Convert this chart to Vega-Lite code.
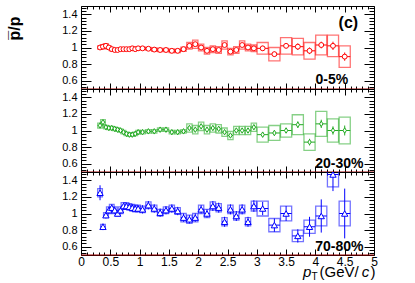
{
"$schema": "https://vega.github.io/schema/vega-lite/v6.json",
"background": "white",
"padding": {"left": 5, "top": 1, "right": 5, "bottom": 3},
"spacing": 0,
"bounds": "flush",
"config": {"view": {"stroke": "black", "strokeWidth": 1}, "font": "Liberation Sans", "axis": {"tickWidth": 1, "tickColor": "black", "labelColor": "black", "labelFont": "Liberation Sans", "labelFontSize": 11, "labelFlush": false, "labelOverlap": false, "labelBound": false, "domain": false, "grid": false}},
"datasets": {
"c05": [
{"pt":0.325,"x1":0.285,"x2":0.365,"v":1.0,"e":0.02,"s1":0.98,"s2":1.02},
{"pt":0.375,"x1":0.335,"x2":0.415,"v":1.01,"e":0.02,"s1":0.985,"s2":1.035},
{"pt":0.425,"x1":0.385,"x2":0.465,"v":1.02,"e":0.02,"s1":0.995,"s2":1.045},
{"pt":0.475,"x1":0.435,"x2":0.515,"v":1.0,"e":0.02,"s1":0.98,"s2":1.02},
{"pt":0.525,"x1":0.485,"x2":0.565,"v":0.98,"e":0.015,"s1":0.96,"s2":1.0},
{"pt":0.575,"x1":0.535,"x2":0.615,"v":0.97,"e":0.015,"s1":0.955,"s2":0.985},
{"pt":0.625,"x1":0.585,"x2":0.665,"v":0.97,"e":0.015,"s1":0.955,"s2":0.985},
{"pt":0.675,"x1":0.635,"x2":0.715,"v":0.98,"e":0.015,"s1":0.965,"s2":0.995},
{"pt":0.725,"x1":0.685,"x2":0.765,"v":0.98,"e":0.015,"s1":0.965,"s2":0.995},
{"pt":0.775,"x1":0.735,"x2":0.815,"v":0.98,"e":0.015,"s1":0.965,"s2":0.995},
{"pt":0.825,"x1":0.785,"x2":0.865,"v":0.98,"e":0.015,"s1":0.965,"s2":0.995},
{"pt":0.875,"x1":0.835,"x2":0.915,"v":0.99,"e":0.015,"s1":0.975,"s2":1.005},
{"pt":0.925,"x1":0.885,"x2":0.965,"v":0.98,"e":0.015,"s1":0.965,"s2":0.995},
{"pt":0.975,"x1":0.935,"x2":1.015,"v":0.99,"e":0.015,"s1":0.975,"s2":1.005},
{"pt":1.05,"x1":1.005,"x2":1.095,"v":0.99,"e":0.015,"s1":0.975,"s2":1.005},
{"pt":1.15,"x1":1.105,"x2":1.195,"v":0.985,"e":0.015,"s1":0.97,"s2":1.0},
{"pt":1.25,"x1":1.205,"x2":1.295,"v":0.975,"e":0.015,"s1":0.955,"s2":0.995},
{"pt":1.35,"x1":1.305,"x2":1.395,"v":0.97,"e":0.015,"s1":0.95,"s2":0.99},
{"pt":1.45,"x1":1.405,"x2":1.495,"v":0.97,"e":0.015,"s1":0.95,"s2":0.99},
{"pt":1.55,"x1":1.505,"x2":1.595,"v":0.96,"e":0.015,"s1":0.94,"s2":0.98},
{"pt":1.65,"x1":1.605,"x2":1.695,"v":0.96,"e":0.015,"s1":0.94,"s2":0.98},
{"pt":1.75,"x1":1.705,"x2":1.795,"v":0.98,"e":0.02,"s1":0.955,"s2":1.005},
{"pt":1.85,"x1":1.805,"x2":1.895,"v":1.02,"e":0.02,"s1":0.98,"s2":1.06},
{"pt":1.95,"x1":1.905,"x2":1.995,"v":1.04,"e":0.02,"s1":0.99,"s2":1.09},
{"pt":2.05,"x1":2.005,"x2":2.095,"v":1.0,"e":0.02,"s1":0.96,"s2":1.04},
{"pt":2.15,"x1":2.105,"x2":2.195,"v":0.96,"e":0.02,"s1":0.92,"s2":1.0},
{"pt":2.25,"x1":2.205,"x2":2.295,"v":0.98,"e":0.02,"s1":0.94,"s2":1.02},
{"pt":2.35,"x1":2.305,"x2":2.395,"v":0.97,"e":0.02,"s1":0.93,"s2":1.01},
{"pt":2.45,"x1":2.405,"x2":2.495,"v":1.03,"e":0.02,"s1":0.98,"s2":1.08},
{"pt":2.55,"x1":2.505,"x2":2.595,"v":0.95,"e":0.02,"s1":0.91,"s2":0.99},
{"pt":2.65,"x1":2.605,"x2":2.695,"v":0.97,"e":0.02,"s1":0.93,"s2":1.01},
{"pt":2.75,"x1":2.705,"x2":2.795,"v":1.03,"e":0.02,"s1":0.98,"s2":1.08},
{"pt":2.85,"x1":2.805,"x2":2.895,"v":1.0,"e":0.025,"s1":0.96,"s2":1.04},
{"pt":2.95,"x1":2.905,"x2":2.995,"v":0.99,"e":0.025,"s1":0.95,"s2":1.03},
{"pt":3.1,"x1":3.005,"x2":3.195,"v":0.99,"e":0.03,"s1":0.92,"s2":1.06},
{"pt":3.3,"x1":3.205,"x2":3.395,"v":0.92,"e":0.03,"s1":0.84,"s2":1.0},
{"pt":3.5,"x1":3.405,"x2":3.595,"v":1.02,"e":0.03,"s1":0.92,"s2":1.12},
{"pt":3.7,"x1":3.605,"x2":3.795,"v":1.01,"e":0.04,"s1":0.91,"s2":1.11},
{"pt":3.9,"x1":3.805,"x2":3.995,"v":0.96,"e":0.04,"s1":0.86,"s2":1.06},
{"pt":4.1,"x1":4.005,"x2":4.195,"v":1.03,"e":0.04,"s1":0.91,"s2":1.15},
{"pt":4.3,"x1":4.205,"x2":4.395,"v":1.02,"e":0.05,"s1":0.89,"s2":1.15},
{"pt":4.5,"x1":4.405,"x2":4.595,"v":0.89,"e":0.05,"s1":0.76,"s2":1.02}
],
"c2030": [
{"pt":0.325,"x1":0.285,"x2":0.365,"v":1.06,"e":0.02,"s1":1.03,"s2":1.09},
{"pt":0.375,"x1":0.335,"x2":0.415,"v":1.1,"e":0.02,"s1":1.07,"s2":1.13},
{"pt":0.425,"x1":0.385,"x2":0.465,"v":1.04,"e":0.02,"s1":1.02,"s2":1.06},
{"pt":0.475,"x1":0.435,"x2":0.515,"v":1.03,"e":0.015,"s1":1.01,"s2":1.05},
{"pt":0.525,"x1":0.485,"x2":0.565,"v":1.03,"e":0.015,"s1":1.01,"s2":1.05},
{"pt":0.575,"x1":0.535,"x2":0.615,"v":1.02,"e":0.015,"s1":1.0,"s2":1.04},
{"pt":0.625,"x1":0.585,"x2":0.665,"v":1.01,"e":0.015,"s1":0.99,"s2":1.03},
{"pt":0.675,"x1":0.635,"x2":0.715,"v":1.0,"e":0.015,"s1":0.98,"s2":1.02},
{"pt":0.725,"x1":0.685,"x2":0.765,"v":0.98,"e":0.015,"s1":0.96,"s2":1.0},
{"pt":0.775,"x1":0.735,"x2":0.815,"v":0.96,"e":0.015,"s1":0.94,"s2":0.98},
{"pt":0.825,"x1":0.785,"x2":0.865,"v":0.95,"e":0.015,"s1":0.93,"s2":0.97},
{"pt":0.875,"x1":0.835,"x2":0.915,"v":0.95,"e":0.015,"s1":0.93,"s2":0.97},
{"pt":0.925,"x1":0.885,"x2":0.965,"v":0.96,"e":0.015,"s1":0.94,"s2":0.98},
{"pt":0.975,"x1":0.935,"x2":1.015,"v":0.98,"e":0.015,"s1":0.96,"s2":1.0},
{"pt":1.05,"x1":1.005,"x2":1.095,"v":0.98,"e":0.015,"s1":0.96,"s2":1.0},
{"pt":1.15,"x1":1.105,"x2":1.195,"v":0.99,"e":0.015,"s1":0.97,"s2":1.01},
{"pt":1.25,"x1":1.205,"x2":1.295,"v":0.99,"e":0.015,"s1":0.97,"s2":1.01},
{"pt":1.35,"x1":1.305,"x2":1.395,"v":1.01,"e":0.015,"s1":0.99,"s2":1.03},
{"pt":1.45,"x1":1.405,"x2":1.495,"v":1.01,"e":0.015,"s1":0.99,"s2":1.03},
{"pt":1.55,"x1":1.505,"x2":1.595,"v":0.98,"e":0.015,"s1":0.96,"s2":1.0},
{"pt":1.65,"x1":1.605,"x2":1.695,"v":0.98,"e":0.015,"s1":0.96,"s2":1.0},
{"pt":1.75,"x1":1.705,"x2":1.795,"v":0.99,"e":0.015,"s1":0.97,"s2":1.01},
{"pt":1.85,"x1":1.805,"x2":1.895,"v":1.03,"e":0.02,"s1":0.98,"s2":1.08},
{"pt":1.95,"x1":1.905,"x2":1.995,"v":1.01,"e":0.02,"s1":0.96,"s2":1.06},
{"pt":2.05,"x1":2.005,"x2":2.095,"v":1.05,"e":0.02,"s1":1.0,"s2":1.1},
{"pt":2.15,"x1":2.105,"x2":2.195,"v":1.01,"e":0.02,"s1":0.96,"s2":1.06},
{"pt":2.25,"x1":2.205,"x2":2.295,"v":1.03,"e":0.02,"s1":0.98,"s2":1.08},
{"pt":2.35,"x1":2.305,"x2":2.395,"v":1.02,"e":0.02,"s1":0.97,"s2":1.07},
{"pt":2.45,"x1":2.405,"x2":2.495,"v":0.98,"e":0.02,"s1":0.93,"s2":1.03},
{"pt":2.55,"x1":2.505,"x2":2.595,"v":0.94,"e":0.02,"s1":0.89,"s2":0.99},
{"pt":2.65,"x1":2.605,"x2":2.695,"v":1.0,"e":0.02,"s1":0.95,"s2":1.05},
{"pt":2.75,"x1":2.705,"x2":2.795,"v":1.0,"e":0.02,"s1":0.95,"s2":1.05},
{"pt":2.85,"x1":2.805,"x2":2.895,"v":1.0,"e":0.02,"s1":0.95,"s2":1.05},
{"pt":2.95,"x1":2.905,"x2":2.995,"v":1.04,"e":0.025,"s1":0.99,"s2":1.09},
{"pt":3.1,"x1":3.005,"x2":3.195,"v":0.95,"e":0.03,"s1":0.86,"s2":1.04},
{"pt":3.3,"x1":3.205,"x2":3.395,"v":0.97,"e":0.03,"s1":0.88,"s2":1.06},
{"pt":3.5,"x1":3.405,"x2":3.595,"v":1.0,"e":0.03,"s1":0.92,"s2":1.08},
{"pt":3.7,"x1":3.605,"x2":3.795,"v":1.07,"e":0.04,"s1":0.95,"s2":1.19},
{"pt":3.9,"x1":3.805,"x2":3.995,"v":0.86,"e":0.04,"s1":0.76,"s2":0.96},
{"pt":4.1,"x1":4.005,"x2":4.195,"v":1.08,"e":0.05,"s1":0.93,"s2":1.23},
{"pt":4.3,"x1":4.205,"x2":4.395,"v":1.0,"e":0.05,"s1":0.86,"s2":1.14},
{"pt":4.5,"x1":4.405,"x2":4.595,"v":1.0,"e":0.06,"s1":0.84,"s2":1.16}
],
"c7080": [
{"pt":0.325,"x1":0.285,"x2":0.365,"v":1.25,"e":0.09,"s1":1.2,"s2":1.3},
{"pt":0.375,"x1":0.335,"x2":0.415,"v":0.84,"e":0.04,"s1":0.81,"s2":0.87},
{"pt":0.425,"x1":0.385,"x2":0.465,"v":0.98,"e":0.04,"s1":0.95,"s2":1.01},
{"pt":0.475,"x1":0.435,"x2":0.515,"v":1.04,"e":0.04,"s1":1.0,"s2":1.08},
{"pt":0.525,"x1":0.485,"x2":0.565,"v":1.07,"e":0.04,"s1":1.03,"s2":1.11},
{"pt":0.575,"x1":0.535,"x2":0.615,"v":1.04,"e":0.04,"s1":1.0,"s2":1.08},
{"pt":0.625,"x1":0.585,"x2":0.665,"v":1.0,"e":0.03,"s1":0.97,"s2":1.03},
{"pt":0.675,"x1":0.635,"x2":0.715,"v":1.04,"e":0.04,"s1":1.0,"s2":1.08},
{"pt":0.725,"x1":0.685,"x2":0.765,"v":1.09,"e":0.04,"s1":1.05,"s2":1.13},
{"pt":0.775,"x1":0.735,"x2":0.815,"v":1.09,"e":0.04,"s1":1.05,"s2":1.13},
{"pt":0.825,"x1":0.785,"x2":0.865,"v":1.08,"e":0.04,"s1":1.04,"s2":1.12},
{"pt":0.875,"x1":0.835,"x2":0.915,"v":1.07,"e":0.04,"s1":1.03,"s2":1.11},
{"pt":0.925,"x1":0.885,"x2":0.965,"v":1.06,"e":0.04,"s1":1.02,"s2":1.1},
{"pt":0.975,"x1":0.935,"x2":1.015,"v":1.06,"e":0.04,"s1":1.02,"s2":1.1},
{"pt":1.05,"x1":1.005,"x2":1.095,"v":1.05,"e":0.05,"s1":1.01,"s2":1.09},
{"pt":1.15,"x1":1.105,"x2":1.195,"v":1.1,"e":0.05,"s1":1.06,"s2":1.14},
{"pt":1.25,"x1":1.205,"x2":1.295,"v":1.06,"e":0.05,"s1":1.02,"s2":1.1},
{"pt":1.35,"x1":1.305,"x2":1.395,"v":1.01,"e":0.05,"s1":0.97,"s2":1.05},
{"pt":1.45,"x1":1.405,"x2":1.495,"v":1.04,"e":0.05,"s1":1.0,"s2":1.08},
{"pt":1.55,"x1":1.505,"x2":1.595,"v":1.06,"e":0.05,"s1":1.02,"s2":1.1},
{"pt":1.65,"x1":1.605,"x2":1.695,"v":1.03,"e":0.05,"s1":0.99,"s2":1.07},
{"pt":1.75,"x1":1.705,"x2":1.795,"v":0.95,"e":0.05,"s1":0.9,"s2":1.0},
{"pt":1.85,"x1":1.805,"x2":1.895,"v":0.93,"e":0.05,"s1":0.88,"s2":0.98},
{"pt":1.95,"x1":1.905,"x2":1.995,"v":0.95,"e":0.05,"s1":0.9,"s2":1.0},
{"pt":2.05,"x1":2.005,"x2":2.095,"v":1.05,"e":0.05,"s1":1.0,"s2":1.1},
{"pt":2.15,"x1":2.105,"x2":2.195,"v":1.0,"e":0.05,"s1":0.95,"s2":1.05},
{"pt":2.25,"x1":2.205,"x2":2.295,"v":1.09,"e":0.06,"s1":1.04,"s2":1.14},
{"pt":2.35,"x1":2.305,"x2":2.395,"v":1.07,"e":0.06,"s1":1.02,"s2":1.12},
{"pt":2.45,"x1":2.405,"x2":2.495,"v":0.9,"e":0.06,"s1":0.85,"s2":0.95},
{"pt":2.55,"x1":2.505,"x2":2.595,"v":1.05,"e":0.06,"s1":1.0,"s2":1.1},
{"pt":2.65,"x1":2.605,"x2":2.695,"v":0.97,"e":0.06,"s1":0.92,"s2":1.02},
{"pt":2.75,"x1":2.705,"x2":2.795,"v":1.05,"e":0.06,"s1":1.0,"s2":1.1},
{"pt":2.85,"x1":2.805,"x2":2.895,"v":0.9,"e":0.06,"s1":0.85,"s2":0.95},
{"pt":2.95,"x1":2.905,"x2":2.995,"v":1.09,"e":0.07,"s1":1.03,"s2":1.15},
{"pt":3.1,"x1":3.005,"x2":3.195,"v":1.06,"e":0.08,"s1":0.97,"s2":1.15},
{"pt":3.3,"x1":3.205,"x2":3.395,"v":0.86,"e":0.08,"s1":0.78,"s2":0.94},
{"pt":3.5,"x1":3.405,"x2":3.595,"v":1.0,"e":0.09,"s1":0.91,"s2":1.09},
{"pt":3.7,"x1":3.605,"x2":3.795,"v":0.73,"e":0.08,"s1":0.66,"s2":0.8},
{"pt":3.9,"x1":3.805,"x2":3.995,"v":0.84,"e":0.12,"s1":0.76,"s2":0.92},
{"pt":4.1,"x1":4.005,"x2":4.195,"v":0.97,"e":0.2,"s1":0.85,"s2":1.09},
{"pt":4.3,"x1":4.205,"x2":4.395,"v":1.47,"e":0.2,"s1":1.32,"s2":1.62},
{"pt":4.5,"x1":4.405,"x2":4.595,"v":1.0,"e":0.3,"s1":0.85,"s2":1.15}
]
},
"vconcat": [
{
"width": 293, "height": 83,
"data": {"name": "c05"},
"resolve": {"axis": {"x": "independent", "y": "independent"}},
"layer": [
{"mark": {"type": "rect", "fillOpacity": 0, "stroke": "#ff0000", "strokeOpacity": 0.55, "strokeWidth": 1.3, "clip": true},
 "encoding": {
  "x": {"field": "x1", "type": "quantitative", "scale": {"domain": [0, 5], "nice": false, "zero": false},
        "axis": {"orient": "bottom", "values": [0,0.1,0.2,0.3,0.4,0.5,0.6,0.7,0.8,0.9,1,1.1,1.2,1.3,1.4,1.5,1.6,1.7,1.8,1.9,2,2.1,2.2,2.3,2.4,2.5,2.6,2.7,2.8,2.9,3,3.1,3.2,3.3,3.4,3.5,3.6,3.7,3.8,3.9,4,4.1,4.2,4.3,4.4,4.5,4.6,4.7,4.8,4.9,5], "labels": false, "title": null,
                 "tickSize": {"condition": {"test": "abs(datum.value*2 - round(datum.value*2)) < 0.001", "value": -6}, "value": -3}}},
  "x2": {"field": "x2"},
  "y": {"field": "s1", "type": "quantitative", "scale": {"domain": [0.5, 1.5], "nice": false, "zero": false},
        "axis": {"orient": "left", "values": [0.52,0.56,0.6,0.64,0.68,0.72,0.76,0.8,0.84,0.88,0.92,0.96,1,1.04,1.08,1.12,1.16,1.2,1.24,1.28,1.32,1.36,1.4,1.44,1.48],
                 "labelExpr": "abs(datum.value*5 - round(datum.value*5)) < 0.001 ? format(datum.value, '~g') : ''", "labelPadding": 14,
                 "tickSize": {"condition": {"test": "abs(datum.value*5 - round(datum.value*5)) < 0.001", "value": -10}, "value": -5},
                 "title": "p\u0305/p", "titleFont": "Liberation Sans", "titleFontSize": 16, "titleFontWeight": "bold", "titleColor": "black",
                 "titleAngle": 270, "titleAlign": "right", "titleBaseline": "alphabetic", "titleX": -62, "titleY": 10}},
  "y2": {"field": "s2"}}},
{"mark": {"type": "rule", "color": "#ff0000", "strokeWidth": 1, "clip": true},
 "encoding": {
  "x": {"field": "x1", "type": "quantitative", "scale": {"domain": [0, 5], "nice": false, "zero": false},
        "axis": {"orient": "top", "values": [0,0.1,0.2,0.3,0.4,0.5,0.6,0.7,0.8,0.9,1,1.1,1.2,1.3,1.4,1.5,1.6,1.7,1.8,1.9,2,2.1,2.2,2.3,2.4,2.5,2.6,2.7,2.8,2.9,3,3.1,3.2,3.3,3.4,3.5,3.6,3.7,3.8,3.9,4,4.1,4.2,4.3,4.4,4.5,4.6,4.7,4.8,4.9,5], "labels": false, "title": null,
                 "tickSize": {"condition": {"test": "abs(datum.value*2 - round(datum.value*2)) < 0.001", "value": -6}, "value": -3}}},
  "x2": {"field": "x2"},
  "y": {"field": "v", "type": "quantitative", "scale": {"domain": [0.5, 1.5], "nice": false, "zero": false},
        "axis": {"orient": "right", "values": [0.52,0.56,0.6,0.64,0.68,0.72,0.76,0.8,0.84,0.88,0.92,0.96,1,1.04,1.08,1.12,1.16,1.2,1.24,1.28,1.32,1.36,1.4,1.44,1.48], "labels": false, "title": null,
                 "tickSize": {"condition": {"test": "abs(datum.value*5 - round(datum.value*5)) < 0.001", "value": -10}, "value": -5}}}}},
{"mark": {"type": "errorbar", "ticks": false, "color": "#ff0000", "thickness": 1, "clip": true},
 "encoding": {"x": {"field": "pt", "type": "quantitative", "axis": null}, "y": {"field": "v", "type": "quantitative", "axis": null}, "yError": {"field": "e"}}},
{"mark": {"type": "point", "shape": "circle", "filled": false, "stroke": "#ff0000", "strokeWidth": 1, "size": 24, "opacity": 1, "fill": "white", "fillOpacity": 1, "clip": true},
 "encoding": {"x": {"field": "pt", "type": "quantitative", "axis": null}, "y": {"field": "v", "type": "quantitative", "axis": null}}},
{"data": {"values": [{}]}, "mark": {"type": "rule", "color": "#990000", "strokeWidth": 1},
 "encoding": {"y": {"datum": 0.5, "type": "quantitative", "axis": null}}},
{"data": {"values": [{}]}, "mark": {"type": "text", "align": "right", "baseline": "alphabetic", "font": "Liberation Sans", "fontWeight": "bold", "fontSize": 14, "color": "black"},
 "encoding": {"x": {"datum": 4.56, "type": "quantitative", "axis": null}, "y": {"datum": 0.555, "type": "quantitative", "axis": null}, "text": {"value": "0-5%"}}},
{"data": {"values": [{}]}, "mark": {"type": "text", "align": "right", "baseline": "alphabetic", "font": "Liberation Sans", "fontWeight": "bold", "fontSize": 16, "color": "black"},
 "encoding": {"x": {"datum": 4.73, "type": "quantitative", "axis": null}, "y": {"datum": 1.23, "type": "quantitative", "axis": null}, "text": {"value": "(c)"}}}
]
},
{
"width": 293, "height": 83,
"data": {"name": "c2030"},
"resolve": {"axis": {"x": "independent", "y": "independent"}},
"layer": [
{"mark": {"type": "rect", "fillOpacity": 0, "stroke": "#22aa22", "strokeOpacity": 0.55, "strokeWidth": 1.3, "clip": true},
 "encoding": {
  "x": {"field": "x1", "type": "quantitative", "scale": {"domain": [0, 5], "nice": false, "zero": false},
        "axis": {"orient": "bottom", "values": [0,0.1,0.2,0.3,0.4,0.5,0.6,0.7,0.8,0.9,1,1.1,1.2,1.3,1.4,1.5,1.6,1.7,1.8,1.9,2,2.1,2.2,2.3,2.4,2.5,2.6,2.7,2.8,2.9,3,3.1,3.2,3.3,3.4,3.5,3.6,3.7,3.8,3.9,4,4.1,4.2,4.3,4.4,4.5,4.6,4.7,4.8,4.9,5], "labels": false, "title": null,
                 "tickSize": {"condition": {"test": "abs(datum.value*2 - round(datum.value*2)) < 0.001", "value": -6}, "value": -3}}},
  "x2": {"field": "x2"},
  "y": {"field": "s1", "type": "quantitative", "scale": {"domain": [0.5, 1.5], "nice": false, "zero": false},
        "axis": {"orient": "left", "values": [0.52,0.56,0.6,0.64,0.68,0.72,0.76,0.8,0.84,0.88,0.92,0.96,1,1.04,1.08,1.12,1.16,1.2,1.24,1.28,1.32,1.36,1.4,1.44,1.48],
                 "labelExpr": "abs(datum.value*5 - round(datum.value*5)) < 0.001 ? format(datum.value, '~g') : ''", "labelPadding": 14, "title": null,
                 "tickSize": {"condition": {"test": "abs(datum.value*5 - round(datum.value*5)) < 0.001", "value": -10}, "value": -5}}},
  "y2": {"field": "s2"}}},
{"mark": {"type": "rule", "color": "#22aa22", "strokeWidth": 1, "clip": true},
 "encoding": {
  "x": {"field": "x1", "type": "quantitative", "scale": {"domain": [0, 5], "nice": false, "zero": false},
        "axis": {"orient": "top", "values": [0,0.1,0.2,0.3,0.4,0.5,0.6,0.7,0.8,0.9,1,1.1,1.2,1.3,1.4,1.5,1.6,1.7,1.8,1.9,2,2.1,2.2,2.3,2.4,2.5,2.6,2.7,2.8,2.9,3,3.1,3.2,3.3,3.4,3.5,3.6,3.7,3.8,3.9,4,4.1,4.2,4.3,4.4,4.5,4.6,4.7,4.8,4.9,5], "labels": false, "title": null,
                 "tickSize": {"condition": {"test": "abs(datum.value*2 - round(datum.value*2)) < 0.001", "value": -6}, "value": -3}}},
  "x2": {"field": "x2"},
  "y": {"field": "v", "type": "quantitative", "scale": {"domain": [0.5, 1.5], "nice": false, "zero": false},
        "axis": {"orient": "right", "values": [0.52,0.56,0.6,0.64,0.68,0.72,0.76,0.8,0.84,0.88,0.92,0.96,1,1.04,1.08,1.12,1.16,1.2,1.24,1.28,1.32,1.36,1.4,1.44,1.48], "labels": false, "title": null,
                 "tickSize": {"condition": {"test": "abs(datum.value*5 - round(datum.value*5)) < 0.001", "value": -10}, "value": -5}}}}},
{"mark": {"type": "errorbar", "ticks": false, "color": "#22aa22", "thickness": 1, "clip": true},
 "encoding": {"x": {"field": "pt", "type": "quantitative", "axis": null}, "y": {"field": "v", "type": "quantitative", "axis": null}, "yError": {"field": "e"}}},
{"mark": {"type": "point", "shape": "M0,-1L0.6,0L0,1L-0.6,0Z", "filled": false, "stroke": "#22aa22", "strokeWidth": 1, "size": 30, "opacity": 1, "fill": "white", "fillOpacity": 1, "clip": true},
 "encoding": {"x": {"field": "pt", "type": "quantitative", "axis": null}, "y": {"field": "v", "type": "quantitative", "axis": null}}},
{"data": {"values": [{}]}, "mark": {"type": "rule", "color": "#990000", "strokeWidth": 1},
 "encoding": {"y": {"datum": 0.5, "type": "quantitative", "axis": null}}},
{"data": {"values": [{}]}, "mark": {"type": "text", "align": "right", "baseline": "alphabetic", "font": "Liberation Sans", "fontWeight": "bold", "fontSize": 14, "color": "black"},
 "encoding": {"x": {"datum": 4.82, "type": "quantitative", "axis": null}, "y": {"datum": 0.55, "type": "quantitative", "axis": null}, "text": {"value": "20-30%"}}}
]
},
{
"width": 293, "height": 83,
"data": {"name": "c7080"},
"resolve": {"axis": {"x": "independent", "y": "independent"}},
"layer": [
{"mark": {"type": "rect", "fillOpacity": 0, "stroke": "#0000ff", "strokeOpacity": 0.55, "strokeWidth": 1.3, "clip": true},
 "encoding": {
  "x": {"field": "x1", "type": "quantitative", "scale": {"domain": [0, 5], "nice": false, "zero": false},
        "axis": {"orient": "bottom", "values": [0,0.1,0.2,0.3,0.4,0.5,0.6,0.7,0.8,0.9,1,1.1,1.2,1.3,1.4,1.5,1.6,1.7,1.8,1.9,2,2.1,2.2,2.3,2.4,2.5,2.6,2.7,2.8,2.9,3,3.1,3.2,3.3,3.4,3.5,3.6,3.7,3.8,3.9,4,4.1,4.2,4.3,4.4,4.5,4.6,4.7,4.8,4.9,5], "title": null,
                 "labelExpr": "abs(datum.value*2 - round(datum.value*2)) < 0.001 ? format(datum.value, '~g') : ''", "labelPadding": 7, "labelFontSize": 12,
                 "tickSize": {"condition": {"test": "abs(datum.value*2 - round(datum.value*2)) < 0.001", "value": -6}, "value": -3}}},
  "x2": {"field": "x2"},
  "y": {"field": "s1", "type": "quantitative", "scale": {"domain": [0.5, 1.5], "nice": false, "zero": false},
        "axis": {"orient": "left", "values": [0.52,0.56,0.6,0.64,0.68,0.72,0.76,0.8,0.84,0.88,0.92,0.96,1,1.04,1.08,1.12,1.16,1.2,1.24,1.28,1.32,1.36,1.4,1.44,1.48],
                 "labelExpr": "abs(datum.value*5 - round(datum.value*5)) < 0.001 ? format(datum.value, '~g') : ''", "labelPadding": 14, "title": null,
                 "tickSize": {"condition": {"test": "abs(datum.value*5 - round(datum.value*5)) < 0.001", "value": -10}, "value": -5}}},
  "y2": {"field": "s2"}}},
{"mark": {"type": "rule", "color": "#0000ff", "strokeWidth": 1, "clip": true},
 "encoding": {
  "x": {"field": "x1", "type": "quantitative", "scale": {"domain": [0, 5], "nice": false, "zero": false},
        "axis": {"orient": "top", "values": [0,0.1,0.2,0.3,0.4,0.5,0.6,0.7,0.8,0.9,1,1.1,1.2,1.3,1.4,1.5,1.6,1.7,1.8,1.9,2,2.1,2.2,2.3,2.4,2.5,2.6,2.7,2.8,2.9,3,3.1,3.2,3.3,3.4,3.5,3.6,3.7,3.8,3.9,4,4.1,4.2,4.3,4.4,4.5,4.6,4.7,4.8,4.9,5], "labels": false, "title": null,
                 "tickSize": {"condition": {"test": "abs(datum.value*2 - round(datum.value*2)) < 0.001", "value": -6}, "value": -3}}},
  "x2": {"field": "x2"},
  "y": {"field": "v", "type": "quantitative", "scale": {"domain": [0.5, 1.5], "nice": false, "zero": false},
        "axis": {"orient": "right", "values": [0.52,0.56,0.6,0.64,0.68,0.72,0.76,0.8,0.84,0.88,0.92,0.96,1,1.04,1.08,1.12,1.16,1.2,1.24,1.28,1.32,1.36,1.4,1.44,1.48], "labels": false, "title": null,
                 "tickSize": {"condition": {"test": "abs(datum.value*5 - round(datum.value*5)) < 0.001", "value": -10}, "value": -5}}}}},
{"mark": {"type": "errorbar", "ticks": false, "color": "#0000ff", "thickness": 1, "clip": true},
 "encoding": {"x": {"field": "pt", "type": "quantitative", "axis": null}, "y": {"field": "v", "type": "quantitative", "axis": null}, "yError": {"field": "e"}}},
{"mark": {"type": "point", "shape": "triangle-up", "filled": false, "stroke": "#0000ff", "strokeWidth": 1, "size": 40, "opacity": 1, "fill": "white", "fillOpacity": 1, "clip": true},
 "encoding": {"x": {"field": "pt", "type": "quantitative", "axis": null}, "y": {"field": "v", "type": "quantitative", "axis": null}}},
{"data": {"values": [{}]}, "mark": {"type": "rule", "color": "#990000", "strokeWidth": 1},
 "encoding": {"y": {"datum": 0.5, "type": "quantitative", "axis": null}}},
{"data": {"values": [{}]}, "mark": {"type": "text", "align": "right", "baseline": "alphabetic", "font": "Liberation Sans", "fontWeight": "bold", "fontSize": 14, "color": "black"},
 "encoding": {"x": {"datum": 4.82, "type": "quantitative", "axis": null}, "y": {"datum": 0.548, "type": "quantitative", "axis": null}, "text": {"value": "70-80%"}}},
{"data": {"values": [{}]}, "mark": {"type": "text", "align": "right", "baseline": "alphabetic", "font": "Liberation Sans", "fontStyle": "italic", "fontSize": 15, "color": "black", "dy": 22},
 "encoding": {"x": {"datum": 3.93, "type": "quantitative", "axis": null}, "y": {"datum": 0.5, "type": "quantitative", "axis": null}, "text": {"value": "p"}}},
{"data": {"values": [{}]}, "mark": {"type": "text", "align": "left", "baseline": "alphabetic", "font": "Liberation Sans", "fontSize": 10, "color": "black", "dy": 25},
 "encoding": {"x": {"datum": 3.935, "type": "quantitative", "axis": null}, "y": {"datum": 0.5, "type": "quantitative", "axis": null}, "text": {"value": "T"}}},
{"data": {"values": [{}]}, "mark": {"type": "text", "align": "left", "baseline": "alphabetic", "font": "Liberation Sans", "fontSize": 15, "color": "black", "dy": 22},
 "encoding": {"x": {"datum": 4.07, "type": "quantitative", "axis": null}, "y": {"datum": 0.5, "type": "quantitative", "axis": null}, "text": {"value": "(GeV/"}}},
{"data": {"values": [{}]}, "mark": {"type": "text", "align": "left", "baseline": "alphabetic", "font": "Liberation Sans", "fontStyle": "italic", "fontSize": 15, "color": "black", "dy": 22},
 "encoding": {"x": {"datum": 4.79, "type": "quantitative", "axis": null}, "y": {"datum": 0.5, "type": "quantitative", "axis": null}, "text": {"value": "c"}}},
{"data": {"values": [{}]}, "mark": {"type": "text", "align": "left", "baseline": "alphabetic", "font": "Liberation Sans", "fontSize": 15, "color": "black", "dy": 22},
 "encoding": {"x": {"datum": 4.94, "type": "quantitative", "axis": null}, "y": {"datum": 0.5, "type": "quantitative", "axis": null}, "text": {"value": ")"}}}
]
}
]
}
